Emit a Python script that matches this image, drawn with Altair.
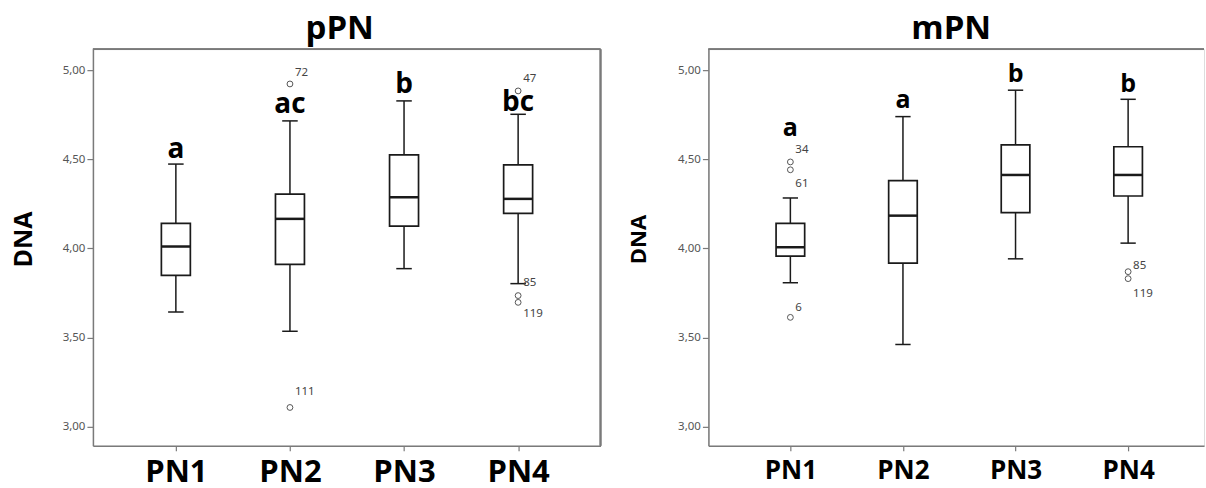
import altair as alt
import pandas as pd

categories = ["PN1", "PN2", "PN3", "PN4"]
cat_index = [1, 2, 3, 4]

# ---- pPN panel ----
p_lower = [3.644, 3.536, 3.887, 3.803]
p_q1 = [3.849, 3.911, 4.125, 4.197]
p_median = [4.011, 4.166, 4.287, 4.278]
p_q3 = [4.141, 4.305, 4.525, 4.468]
p_upper = [4.473, 4.715, 4.827, 4.752]
p_letters = ["a", "ac", "b", "bc"]
p_letter_value = [4.508, 4.759, 4.871, 4.771]
p_out_group = [2, 2, 4, 4, 4]
p_out_value = [4.922, 3.109, 4.883, 3.736, 3.698]
p_lab_group = [2, 2, 4, 4, 4]
p_lab_text = ["72", "111", "47", "85", "119"]
p_lab_value = [4.983, 3.193, 4.950, 3.808, 3.635]

# ---- mPN panel ----
m_lower = [3.808, 3.462, 3.942, 4.030]
m_q1 = [3.957, 3.918, 4.201, 4.294]
m_median = [4.007, 4.184, 4.412, 4.412]
m_q3 = [4.141, 4.380, 4.581, 4.570]
m_upper = [4.283, 4.739, 4.887, 4.836]
m_letters = ["a", "a", "b", "b"]
m_letter_value = [4.631, 4.787, 4.933, 4.877]
m_out_group = [1, 1, 1, 4, 4]
m_out_value = [4.485, 4.441, 3.614, 3.870, 3.831]
m_lab_group = [1, 1, 1, 4, 4]
m_lab_text = ["34", "61", "6", "85", "119"]
m_lab_value = [4.552, 4.362, 3.669, 3.903, 3.747]

y_ticks = [3.0, 3.5, 4.0, 4.5, 5.0]
y_domain = [2.894, 5.117]
FRAME = "#7a7a7a"
INK = "#1a1a1a"
PLOT_H = 397


def panel(title, lower, q1, med, q3, upper, letters, letter_value,
          og, ov, lg, lt, lv, width, x_domain, xlab_size, ytitle_size,
          letter_size, title_dx, ytitle_x, right_border):
    box = pd.DataFrame({"idx": cat_index, "cat": categories, "lower": lower,
                        "q1": q1, "median": med, "q3": q3, "upper": upper,
                        "letter": letters, "letter_value": letter_value})
    outs = pd.DataFrame({"idx": og, "value": ov})
    labs = pd.DataFrame({"idx": lg, "text": lt, "value": lv})

    xs = alt.Scale(domain=x_domain, nice=False, zero=False)
    ys = alt.Scale(domain=y_domain, nice=False, zero=False)
    label_expr = "[" + ",".join("'%s'" % c for c in categories) + "][datum.value - 1]"
    xa = alt.Axis(values=cat_index, labelExpr=label_expr, grid=False,
                  domainColor=FRAME, domainWidth=1.5, tickColor=FRAME,
                  tickSize=5, tickWidth=1.2, labelFont="Open Sans",
                  labelFontSize=xlab_size, labelFontWeight="bold",
                  labelColor="black", labelPadding=7, labelFlush=False,
                  labelOverlap=False, title=None)
    ya = alt.Axis(values=y_ticks,
                  labelExpr="replace(format(datum.value, '.2f'), '.', ',')",
                  grid=False, domainColor=FRAME, domainWidth=1.5,
                  tickColor=FRAME, tickSize=6, tickWidth=1.2,
                  labelFont="Noto Sans", labelFontSize=11.5, labelColor="#555",
                  labelPadding=2, title="DNA", titleFont="Open Sans",
                  titleFontSize=ytitle_size, titleFontWeight="bold",
                  titleColor="black", titleX=ytitle_x, titleY=190,
                  titleAngle=270, titleBaseline="middle", titleAlign="center")

    base = alt.Chart(box)
    whisk = base.mark_rule(color=INK, strokeWidth=1.5).encode(
        x=alt.X("idx:Q", scale=xs, axis=xa),
        y=alt.Y("lower:Q", scale=ys, axis=ya),
        y2="upper:Q")
    caps = base.transform_fold(["lower", "upper"], as_=["k", "v"]).transform_calculate(
        xl="datum.idx - 0.068", xr="datum.idx + 0.068").mark_rule(
        color=INK, strokeWidth=1.5).encode(
        x=alt.X("xl:Q", scale=xs, axis=xa), x2="xr:Q",
        y=alt.Y("v:Q", scale=ys, axis=ya))
    boxes = base.transform_calculate(
        xl="datum.idx - 0.127", xr="datum.idx + 0.127").mark_bar(
        fill="white", stroke=INK, strokeWidth=1.7).encode(
        x=alt.X("xl:Q", scale=xs, axis=xa), x2="xr:Q",
        y=alt.Y("q1:Q", scale=ys, axis=ya), y2="q3:Q")
    meds = base.transform_calculate(
        xl="datum.idx - 0.127", xr="datum.idx + 0.127").mark_rule(
        color=INK, strokeWidth=2.5).encode(
        x=alt.X("xl:Q", scale=xs, axis=xa), x2="xr:Q",
        y=alt.Y("median:Q", scale=ys, axis=ya))
    letters_l = base.mark_text(font="Open Sans", fontWeight="bold",
                               fontSize=letter_size, color="black",
                               baseline="alphabetic", align="center").encode(
        x=alt.X("idx:Q", scale=xs, axis=xa),
        y=alt.Y("letter_value:Q", scale=ys, axis=ya),
        text="letter:N")
    pts = alt.Chart(outs).mark_point(shape="circle", filled=False, size=34,
                                     color="#555", strokeWidth=1, opacity=1).encode(
        x=alt.X("idx:Q", scale=xs, axis=xa),
        y=alt.Y("value:Q", scale=ys, axis=ya))
    txt = alt.Chart(labs).mark_text(font="Noto Sans", fontSize=11.5,
                                    color="#444", align="left",
                                    baseline="middle", dx=5).encode(
        x=alt.X("idx:Q", scale=xs, axis=xa),
        y=alt.Y("value:Q", scale=ys, axis=ya),
        text="text:N")
    top = alt.Chart(box).mark_rule(color=FRAME, strokeWidth=1.5).encode(
        x=alt.value(0), x2=alt.value(width), y=alt.value(0))
    layers = [top, whisk, caps, boxes, meds, pts, txt, letters_l]
    if right_border:
        rb = alt.Chart(box).mark_rule(color=FRAME, strokeWidth=1.5).encode(
            x=alt.value(width), y=alt.value(0), y2=alt.value(PLOT_H))
        layers.append(rb)
    return alt.layer(*layers).properties(
        width=width, height=PLOT_H,
        title=alt.TitleParams(title, font="Open Sans", fontSize=33,
                              fontWeight="bold", color="black",
                              anchor="middle", frame="group",
                              baseline="alphabetic", offset=-24, dx=title_dx))


left = panel("pPN", p_lower, p_q1, p_median, p_q3, p_upper, p_letters,
             p_letter_value, p_out_group, p_out_value, p_lab_group,
             p_lab_text, p_lab_value, 508, [0.273, 4.722], 31, 25, 28, -7,
             -69, True)
right = panel("mPN", m_lower, m_q1, m_median, m_q3, m_upper, m_letters,
              m_letter_value, m_out_group, m_out_value, m_lab_group,
              m_lab_text, m_lab_value, 496, [0.272, 4.674], 26, 22, 25, -5,
              -70, False)

chart = alt.hconcat(left, right, spacing=24).properties(
    padding={"left": 11, "top": 12, "right": 0, "bottom": 0}
).configure_view(stroke=None).configure(background="white")

chart.save("out.html", embed_options={"renderer": "svg", "actions": False})
